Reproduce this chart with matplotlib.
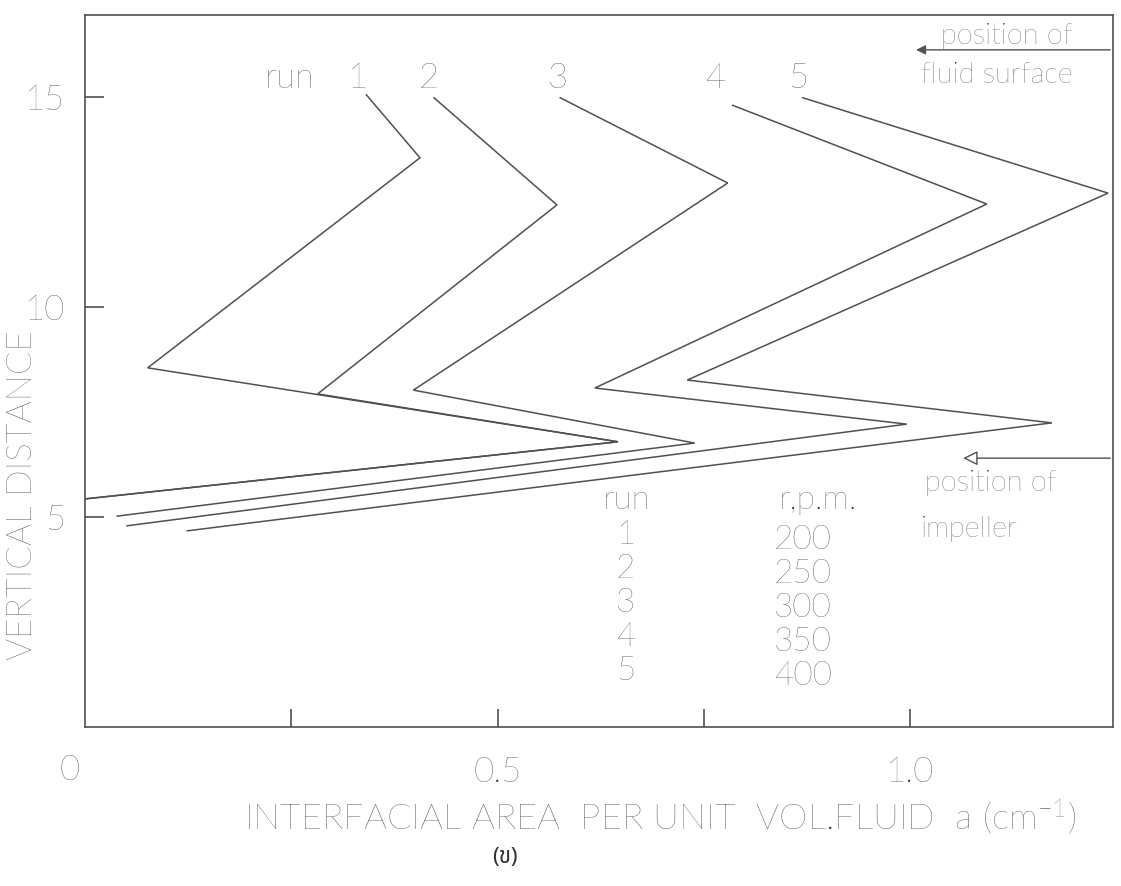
import matplotlib
matplotlib.use("Agg")
import matplotlib.pyplot as plt

# interfacial area a (cm^-1) vs vertical distance, one polyline per run
run1_area = [0.341, 0.406, 0.076, 0.646, 0.000]
run1_height = [15.05, 13.55, 8.55, 6.79, 5.43]
run2_area = [0.423, 0.572, 0.282, 0.646, 0.000]
run2_height = [14.98, 12.43, 7.93, 6.79, 5.43]
run3_area = [0.576, 0.779, 0.398, 0.739, 0.039]
run3_height = [14.98, 12.95, 8.02, 6.76, 5.02]
run4_area = [0.785, 1.093, 0.618, 0.996, 0.051]
run4_height = [14.80, 12.45, 8.07, 7.21, 4.79]
run5_area = [0.870, 1.240, 0.730, 1.172, 0.124]
run5_height = [14.98, 12.71, 8.26, 7.24, 4.67]

run_ids = ["1", "2", "3", "4", "5"]
rpm = ["200", "250", "300", "350", "400"]

fluid_surface = 16.12
impeller = 6.40

plt.rcParams['font.family'] = ['Lato', 'DejaVu Sans']
plt.rcParams['font.weight'] = 'light'
plt.rcParams['axes.labelweight'] = 'light'
plt.rcParams['mathtext.fontset'] = 'custom'
plt.rcParams['mathtext.rm'] = 'Lato:light'
plt.rcParams['mathtext.default'] = 'regular'
ink = '#505050'
txt = '#303030'

fig = plt.figure(figsize=(11.21, 8.86), dpi=100)
ax = fig.add_axes([85/1121, 1-727/886, 1028/1121, 712/886])

runs = [(run1_area, run1_height), (run2_area, run2_height), (run3_area, run3_height),
        (run4_area, run4_height), (run5_area, run5_height)]
for a, h in runs:
    ax.plot(a, h, color=ink, lw=1.1, solid_joinstyle='miter')

ax.set_xlim(0, 1.246)
ax.set_ylim(0, 16.95)
for s in ax.spines.values():
    s.set_color(ink)
    s.set_linewidth(1.2)

ax.set_xticks([0.25, 0.5, 0.75, 1.0])
ax.set_xticklabels(['', '0.5', '', '1.0'])
ax.set_yticks([5, 10, 15])
ax.set_yticklabels(['5', '10', '15'])
ax.tick_params(axis='x', direction='in', length=13, width=1.2, color=ink,
               labelsize=25, labelcolor=txt, pad=21)
ax.tick_params(axis='y', direction='in', length=14, width=1.2, color=ink,
               labelsize=25, labelcolor=txt, pad=14)
ax.text(-0.0146, -0.061, '0', transform=ax.transAxes, ha='center', va='center',
        fontsize=25, color=txt)

ax.set_ylabel('VERTICAL DISTANCE', fontsize=25, color=txt, fontweight='light')
ax.yaxis.set_label_coords(-0.046, 0.326)
fig.text(660/1121, 1-817/886, r'INTERFACIAL AREA  PER UNIT  VOL.FLUID  a (cm$^{-1}$)',
         ha='center', va='center', fontsize=26, color=txt)
fig.text(505/1121, 1-857/886, '(ข)', ha='center', va='center', fontsize=16, color=txt,
         family=['Noto Sans Thai', 'Noto Serif Thai', 'Loma', 'Garuda', 'Tlwg Typo', 'DejaVu Sans'])

# run labels on top
ax.text(0.248, 15.45, 'run', ha='center', va='center', fontsize=25, color=txt)
for lab, xx in zip(run_ids, [0.331, 0.416, 0.573, 0.764, 0.864]):
    ax.text(xx, 15.45, lab, ha='center', va='center', fontsize=25, color=txt)

# table of rpm
ax.text(0.657, 5.40, 'run', ha='center', va='center', fontsize=24, color=txt)
ax.text(0.888, 5.40, 'r,p.m.', ha='center', va='center', fontsize=24, color=txt)
for i, (r, n) in enumerate(zip(run_ids, rpm)):
    ax.text(0.655, 4.57 - 0.81*i, r, ha='center', va='center', fontsize=24, color=txt)
    ax.text(0.870, 4.45 - 0.81*i, n, ha='center', va='center', fontsize=24, color=txt)

# fluid surface marker
ax.annotate('', xy=(1.004, fluid_surface), xytext=(1.246, fluid_surface),
            arrowprops=dict(arrowstyle='-|>', color=ink, lw=1.0, mutation_scale=14))
ax.text(1.197, 16.45, 'position of', ha='right', va='center', fontsize=21, color=txt)
ax.text(1.197, 15.52, 'fluid surface', ha='right', va='center', fontsize=21, color=txt)

# impeller marker
ax.annotate('', xy=(1.061, impeller), xytext=(1.246, impeller),
            arrowprops=dict(arrowstyle='-|>', color=ink, lw=1.0, mutation_scale=22,
                            fc='white'))
ax.text(1.018, 5.80, 'position of', ha='left', va='center', fontsize=21, color=txt)
ax.text(1.013, 4.72, 'impeller', ha='left', va='center', fontsize=21, color=txt)

fig.savefig('out.png', dpi=100, facecolor='white')
